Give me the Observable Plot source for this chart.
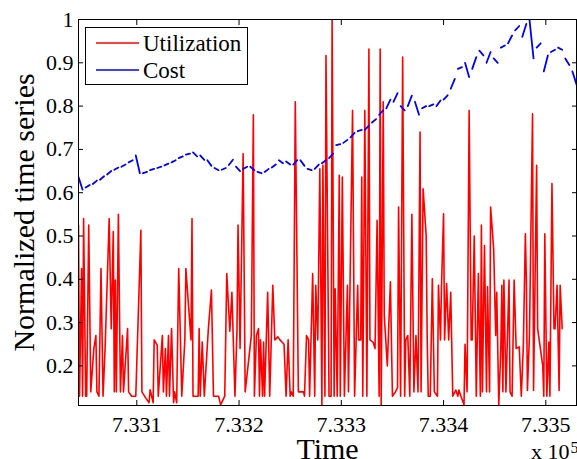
<!DOCTYPE html>
<html>
<head>
<meta charset="utf-8">
<script src="https://cdn.jsdelivr.net/npm/d3@7"></script>
<script src="https://cdn.jsdelivr.net/npm/@observablehq/plot@0.6"></script>
<style>
  body { margin: 0; background: #fff; }
  #wrap { position: relative; width: 577px; height: 459px; overflow: hidden; font-family: "Liberation Serif", "Times New Roman", serif; }
  #wrap > svg { position: absolute; left: 0; top: 0; }
  #wrap svg text { font-family: "Liberation Serif", "Times New Roman", serif; }
  #legend { position: absolute; left: 85px; top: 27px; width: 161px; height: 56px; border: 1px solid #000; background: #fff; }
</style>
</head>
<body>
<div id="wrap"></div>
<script>
// ---------- data ----------
const startDay = 733043;            // MATLAB datenum of first sample
const endDay = 733530;
const seriesNames = ["Utilization", "Cost"];
const seriesColors = ["#ff0000", "#0000ff"];

// Utilization: day offsets and normalized values
const utilDay = [
  0,1,3,4,5,7,8,10,12,15,17,18,20,22,24,26,30,32,34,35,36,37,39,41,43,44,48,49,52,56,61,62,66,69,70,73,74,77,78,
  82,83,85,86,88,89,91,93,94,96,98,101,104,105,110,111,112,117,118,119,121,123,127,130,132,137,139,143,145,148,150,153,155,156,158,
  161,163,169,171,172,174,176,177,178,180,181,182,185,187,190,192,195,197,201,203,205,207,208,210,212,215,220,221,223,225,226,229,231,232,234,236,238,239,241,242,
  245,247,248,250,251,253,255,256,258,260,263,264,268,270,273,274,276,277,278,280,282,284,285,288,290,292,294,295,296,298,299,302,305,307,310,312,313,315,317,319,320,322,324,
  326,328,330,332,334,335,337,340,341,342,344,346,348,351,352,354,355,357,358,360,362,364,366,369,371,372,374,377,378,380,382,384,385,387,389,391,393,394,395,397,399,400,402,403,
  406,408,409,411,413,414,415,416,418,421,422,424,426,428,431,433,435,437,438,439,441,444,445,448,449,454,455,456,458,460,461,463,465,466,468,470,471,473
];
const utilVal = [
  .525,.13,.425,.13,.54,.13,.13,.525,.14,.24,.27,.14,.13,.425,.13,.24,.54,.286,.51,.14,.398,.14,.55,.14,.27,.14,.286,.14,.13,.13,.513,.14,.125,.115,.145,.115,.26,.248,.13,
  .27,.14,.24,.13,.27,.13,.286,.115,.14,.115,.425,.13,.26,.425,.26,.54,.13,.13,.286,.13,.255,.13,.286,.375,.13,.13,.11,.13,.413,.28,.37,.13,.286,.525,.24,
  .69,.14,.27,.78,.13,.27,.286,.13,.26,.13,.255,.13,.37,.13,.386,.26,.267,.26,.25,.13,.26,.13,.14,.13,.81,.14,.14,.13,.27,.26,.13,.413,.13,.386,.26,.655,.11,.663,.13,.917,
  .13,.13,1.0,.13,.378,.13,.64,.13,.636,.13,.386,.14,.79,.13,.386,.26,.26,.636,.13,.79,.13,.932,.26,.255,.24,.536,.13,.932,.11,.81,.317,.2,.394,.13,.14,.15,.567,.13,.913,.13,.26,.27,.13,
  .55,.14,.27,.14,.74,.14,.609,.5,.263,.13,.13,.401,.14,.13,.386,.26,.386,.551,.26,.39,.26,.37,.13,.144,.13,.144,.13,.11,.25,.14,.79,.26,.26,.5,.13,.413,.13,.525,.14,.478,.14,.383,.14,.567,
  .47,.27,.37,.11,.24,.386,.14,.398,.14,.398,.14,.13,.398,.24,.244,.13,.244,.505,.394,.143,.27,.782,.143,.663,.286,.2,.13,.505,.13,.255,.13,.621,.286,.286,.386,.143,.386,.286
];

// Cost: one trading week per entry (Monday value, Friday value); weekends are missing
const costMon = [
  .636,.612,.62,.63,.642,.653,.66,.67,.686,.645,
  .652,.657,.663,.67,.68,.688,.693,.686,.675,.657,
  .653,.664,.66,.655,.66,.648,.648,.658,.675,.672,
  .665,.675,.655,.655,.668,.68,.71,.715,.728,.742,
  .745,.762,.78,.795,.81,.80,.80,.81,.795,.80,
  .80,.815,.84,.886,.90,.886,.928,.90,.91,.935,
  .945,.975,.96,1.0,.935,.88,.925,.935,.91,.88
];
const costFri = [
  .607,.618,.628,.638,.65,.658,.665,.675,.645,.648,
  .655,.66,.667,.675,.684,.69,.684,.676,.662,.652,
  .657,.676,.65,.66,.652,.645,.655,.665,.668,.665,
  .675,.662,.652,.665,.675,.69,.712,.722,.738,.745,
  .755,.77,.79,.815,.83,.79,.824,.78,.80,.804,
  .813,.825,.863,.89,.867,.913,.917,.925,.90,.94,
  .963,.985,.99,.91,.945,.917,.93,.93,.895,.85
];

const xTicks = [733100, 733200, 733300, 733400, 733500];
const yTicks = [0.2, 0.3, 0.4, 0.5, 0.6, 0.7, 0.8, 0.9, 1.0];
const yLabel = "Normalized time series";
const xLabel = "Time";
const xExpBase = "x 10";
const xExpPow = "5";

// ---------- tables ----------
const util = utilDay.map((d, i) => ({t: startDay + d, v: utilVal[i]}));
const cost = costMon.flatMap((m, i) => [
  {t: startDay + 7 * i, v: m, w: i},
  {t: startDay + 7 * i + 4, v: costFri[i], w: i}
]);

const font = '"Liberation Serif", "Times New Roman", serif';
const chart = Plot.plot({
  width: 577, height: 459,
  marginLeft: 78, marginRight: 1, marginTop: 19, marginBottom: 54,
  style: {fontFamily: font, fontSize: "22px", background: "transparent", color: "#000", overflow: "visible"},
  x: {domain: [startDay, endDay]},
  y: {domain: [0.1085, 1]},
  marks: [
    Plot.line(util, {x: "t", y: "v", stroke: seriesColors[0], strokeWidth: 1.6, clip: true}),
    Plot.line(cost, {x: "t", y: "v", z: "w", stroke: seriesColors[1], strokeWidth: 1.8, clip: true}),
    Plot.frame({stroke: "#000", strokeWidth: 1}),
    Plot.axisX(xTicks, {anchor: "bottom", tickSize: -5, tickPadding: 16, fontFamily: font, fontSize: 22, fontVariant: "normal", tickFormat: d => (d / 1e5).toFixed(3), label: null}),
    Plot.axisX(xTicks, {anchor: "top", tickSize: -5, tickFormat: () => "", label: null}),
    Plot.axisY(yTicks, {anchor: "left", tickSize: -5, tickPadding: 10, fontFamily: font, fontSize: 22, fontVariant: "normal", tickFormat: d => String(+d.toFixed(1)), label: null}),
    Plot.axisY(yTicks, {anchor: "right", tickSize: -5, tickFormat: () => "", label: null}),
    Plot.text([yLabel], {text: d => d, frameAnchor: "left", dx: -45, rotate: -90, textAnchor: "middle", lineAnchor: "bottom", fontSize: 30, fontFamily: font}),
    Plot.text([xLabel], {text: d => d, frameAnchor: "bottom", dy: 53, textAnchor: "middle", lineAnchor: "bottom", fontSize: 30, fontFamily: font}),
    Plot.text([xExpBase], {text: d => d, frameAnchor: "bottom-right", dx: -7, dy: 53, textAnchor: "end", lineAnchor: "bottom", fontSize: 22, fontFamily: font}),
    Plot.text([xExpPow], {text: d => d, frameAnchor: "bottom-right", dx: -6, dy: 47, textAnchor: "start", lineAnchor: "bottom", fontSize: 16, fontFamily: font})
  ]
});
const wrap = document.getElementById("wrap");
wrap.appendChild(chart);

// ---------- legend (inside the axes box, top-left) ----------
const leg = document.createElement("div");
leg.id = "legend";
const ns = "http://www.w3.org/2000/svg";
const lsvg = document.createElementNS(ns, "svg");
lsvg.setAttribute("width", 161); lsvg.setAttribute("height", 56);
seriesNames.forEach((name, i) => {
  const yc = 15 + i * 27;
  const ln = document.createElementNS(ns, "line");
  ln.setAttribute("x1", 10); ln.setAttribute("x2", 53);
  ln.setAttribute("y1", yc); ln.setAttribute("y2", yc);
  ln.setAttribute("stroke", seriesColors[i]); ln.setAttribute("stroke-width", 1.6);
  lsvg.appendChild(ln);
  const tx = document.createElementNS(ns, "text");
  tx.setAttribute("x", 57); tx.setAttribute("y", yc + 8);
  tx.setAttribute("font-family", font); tx.setAttribute("font-size", 23);
  tx.textContent = name;
  lsvg.appendChild(tx);
});
leg.appendChild(lsvg);
wrap.appendChild(leg);
</script>
</body>
</html>
